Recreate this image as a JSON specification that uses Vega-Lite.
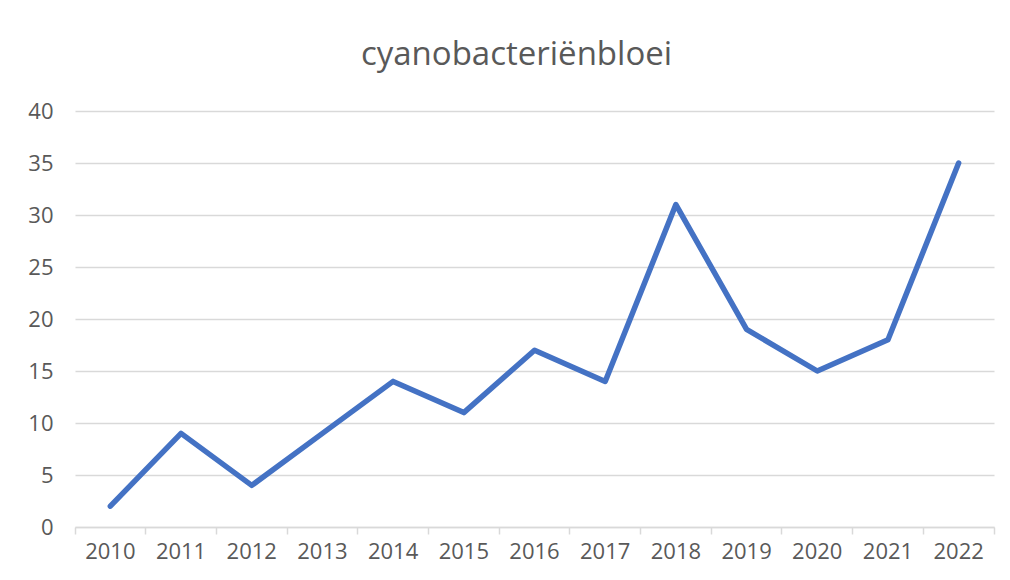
{
  "$schema": "https://vega.github.io/schema/vega-lite/v6.json",
  "autosize": "none",
  "width": 919,
  "height": 416,
  "padding": {"left": 75, "top": 111, "right": 16, "bottom": 53},
  "background": "white",
  "config": {
    "font": "Open Sans",
    "view": {"stroke": null}
  },
  "title": {
    "text": "cyanobacteriënbloei",
    "fontSize": 33,
    "fontWeight": "normal",
    "color": "#595959",
    "anchor": "middle",
    "baseline": "alphabetic",
    "offset": 2,
    "dx": -18
  },
  "data": {
    "values": [
      {"year": "2010", "count": 2},
      {"year": "2011", "count": 9},
      {"year": "2012", "count": 4},
      {"year": "2013", "count": 9},
      {"year": "2014", "count": 14},
      {"year": "2015", "count": 11},
      {"year": "2016", "count": 17},
      {"year": "2017", "count": 14},
      {"year": "2018", "count": 31},
      {"year": "2019", "count": 19},
      {"year": "2020", "count": 15},
      {"year": "2021", "count": 18},
      {"year": "2022", "count": 35}
    ]
  },
  "mark": {"type": "line", "color": "#4472C4", "strokeWidth": 5.5, "strokeCap": "round", "strokeJoin": "round"},
  "encoding": {
    "x": {
      "field": "year",
      "type": "ordinal",
      "bandPosition": 0.5,
      "scale": {"type": "band", "paddingInner": 0, "paddingOuter": 0},
      "axis": {
        "title": null,
        "labelAngle": 0,
        "labelFontSize": 22,
        "labelColor": "#595959",
        "labelPadding": 7,
        "labelOffset": 0,
        "bandPosition": 1,
        "tickExtra": true,
        "domainColor": "#D9D9D9",
        "domainWidth": 1.5,
        "tickColor": "#D9D9D9",
        "tickWidth": 1.5,
        "tickSize": 7,
        "grid": false
      }
    },
    "y": {
      "field": "count",
      "type": "quantitative",
      "scale": {"domain": [0, 40], "nice": false},
      "axis": {
        "title": null,
        "values": [0, 5, 10, 15, 20, 25, 30, 35, 40],
        "labelFontSize": 22,
        "labelColor": "#595959",
        "labelPadding": 22,
        "domain": false,
        "ticks": false,
        "gridColor": "#D9D9D9",
        "gridWidth": 1.5
      }
    }
  }
}
